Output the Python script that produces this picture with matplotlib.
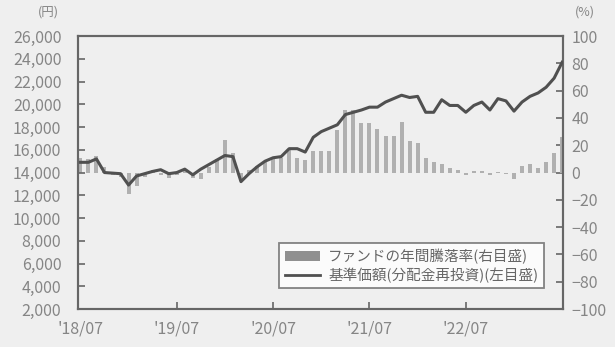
import matplotlib
matplotlib.use("Agg")
from matplotlib import pyplot as plt
from matplotlib.patches import Patch
from matplotlib.lines import Line2D
from numpy import arange

plt.rcParams['font.family'] = ['Noto Sans CJK JP', 'DejaVu Sans']

# monthly data, 2018/07 - 2023/07
nav = [14900, 14900, 15200, 14000, 13950, 13900, 12900, 13700, 13900, 14100,
       14250, 13900, 14000, 14300, 13800, 14300, 14700, 15100, 15500, 15400,
       13200, 13900, 14500, 15000, 15300, 15400, 16100, 16100, 15800, 17100,
       17600, 17900, 18200, 19100, 19300, 19500, 19750, 19750, 20200, 20500,
       20800, 20600, 20700, 19300, 19300, 20400, 19900, 19900, 19300, 19900,
       20200, 19500, 20500, 20300, 19400, 20200, 20700, 21000, 21500, 22300,
       23700]
annual_return = [11, 10, 12, 4, -2, -3, -16, -10, -3, 2,
                 -2, -4, -2, 2, -4, -5, 4, 10, 24, 14,
                 -6, 2, 5, 8, 11, 11, 17, 11, 9.5, 16,
                 16, 16, 31, 46, 46, 36, 36, 32, 27, 27,
                 37, 23, 22, 11, 8, 6, 3, 2, -2, 1,
                 1, -2, 0.5, -1, -5, 5, 6, 3.5, 8, 14,
                 26]
tick_labels = ["'18/07", "'19/07", "'20/07", "'21/07", "'22/07"]

months = arange(len(nav))
grey_text = "#858585"
frame = "#666666"

fig = plt.figure(figsize=(6.15, 3.47), dpi=100)
fig.patch.set_facecolor("#efefef")
ax = fig.add_axes([0.1268, 0.1095, 0.7886, 0.7865])
ax2 = ax.twinx()

ax2.bar(months, annual_return, width=0.5, color="#b0b0b0", zorder=2)
ax2.set_ylim(-100, 100)
ax2.set_yticks(range(-100, 101, 20))

ax.plot(months, nav, color="#505050", linewidth=2.2, zorder=3)
ax.set_ylim(2000, 26000)
ax.set_yticks(range(2000, 26001, 2000))
ax.set_yticklabels([f"{v:,}" for v in range(2000, 26001, 2000)])
ax.set_xlim(-0.3, 60.1)
ax.set_xticks([0, 12, 24, 36, 48])
ax.set_xticklabels(tick_labels)

ax.set_zorder(ax2.get_zorder() + 1)
ax.patch.set_visible(False)
ax2.set_facecolor("white")

for a in (ax, ax2):
    for s in a.spines.values():
        s.set_color(frame)
        s.set_linewidth(1.5)
ax.tick_params(direction="in", length=5, width=1.2, color=frame,
               labelcolor=grey_text, labelsize=11.5, pad=12)
ax.tick_params(axis="x", pad=8)
ax2.tick_params(direction="in", length=5, width=1.2, color=frame,
                labelcolor=grey_text, labelsize=11.5, pad=6)
ax.xaxis.get_major_ticks()[0].tick1line.set_visible(False)

fig.text(0.078, 0.965, "(円)", color=grey_text, fontsize=9, ha="center", va="center")
fig.text(0.951, 0.965, "(%)", color=grey_text, fontsize=9, ha="center", va="center")

handles = [Patch(facecolor="#909090", edgecolor="none"),
           Line2D([0], [0], color="#505050", linewidth=2)]
labels = ["ファンドの年間騰落率(右目盛)", "基準価額(分配金再投資)(左目盛)"]
leg = ax.legend(handles, labels, loc="lower right", bbox_to_anchor=(0.975, 0.05),
                fontsize=10.5, frameon=True, fancybox=False, handlelength=2.4,
                borderpad=0.35, labelspacing=0.25, handletextpad=0.6)
leg.get_frame().set_edgecolor(frame)
leg.get_frame().set_linewidth(1.3)
for t in leg.get_texts():
    t.set_color("#666666")

fig.savefig("out.png", dpi=100, facecolor=fig.get_facecolor())
